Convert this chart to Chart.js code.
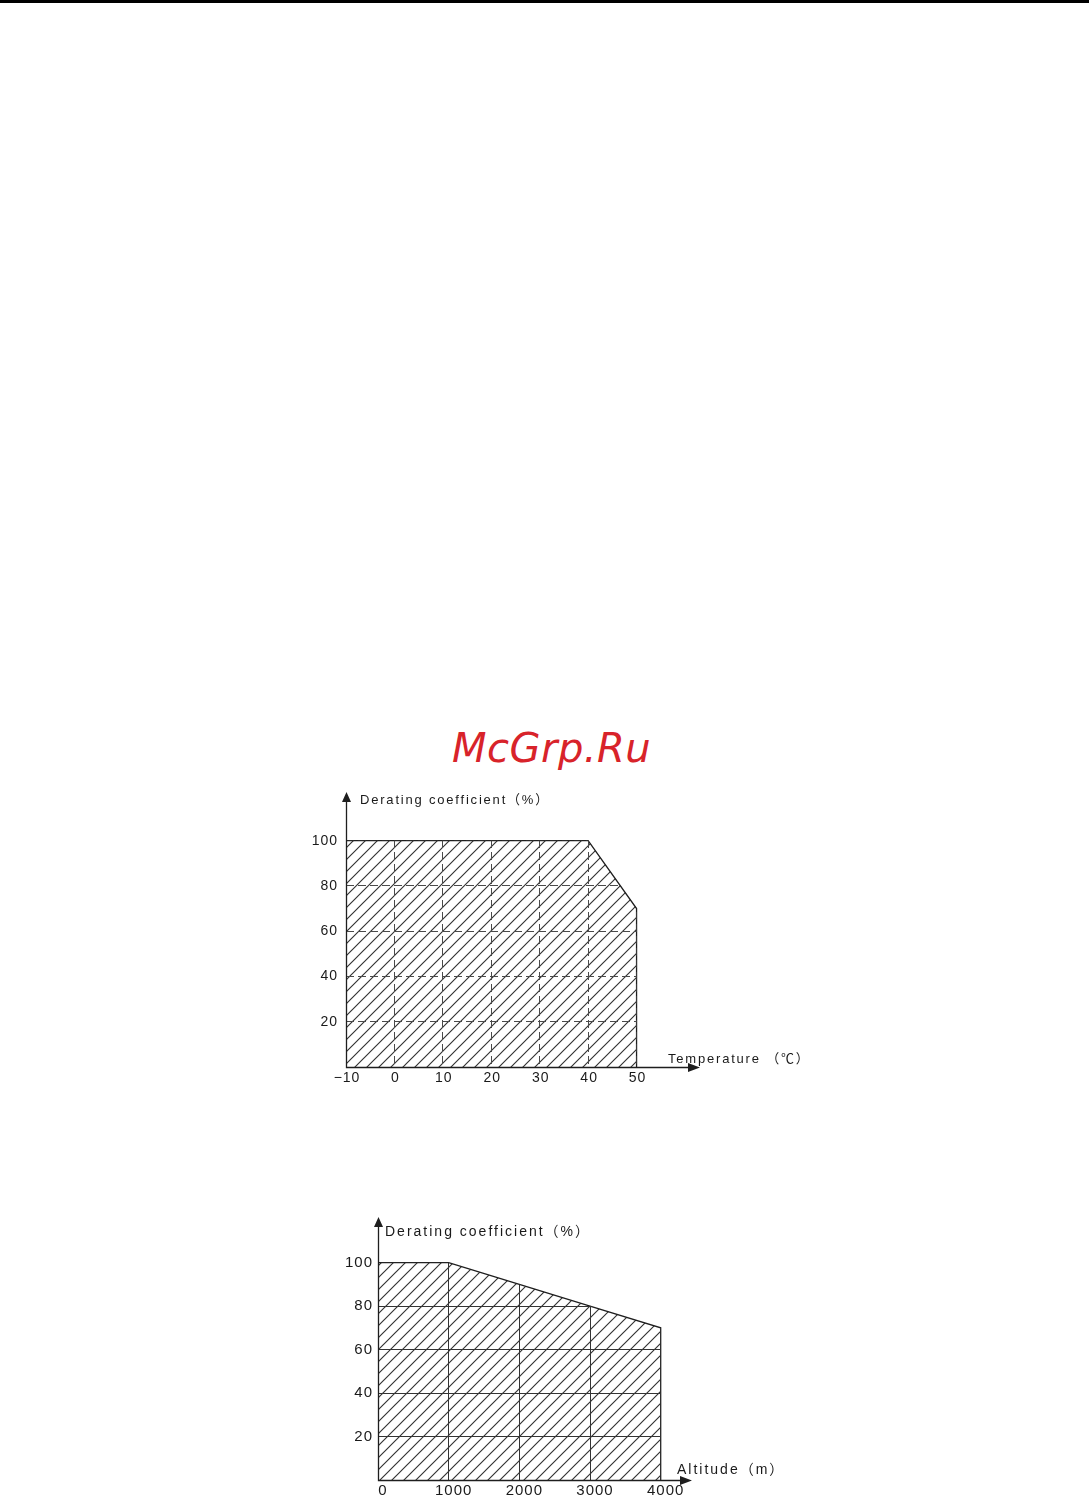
<!DOCTYPE html>
<html>
<head>
<meta charset="utf-8">
<script src="https://cdn.jsdelivr.net/npm/chart.js@4.4.1/dist/chart.umd.min.js"></script>
<style>
  html, body { margin: 0; padding: 0; background: #fff; }
  body { width: 1089px; height: 1495px; position: relative; overflow: hidden; }
  .topline { position: absolute; left: 0; top: 0; width: 1089px; height: 3px; background: #000; }
  .mark { position: absolute; left: 452px; top: 728px; font: oblique 40px "DejaVu Sans"; line-height: 40px; color: #d8232a; letter-spacing: 0.5px; }
  canvas { position: absolute; }
  #tempChart { left: 280px; top: 770px; }
  #altChart { left: 300px; top: 1200px; }
</style>
</head>
<body>
<div class="topline"></div>
<div class="mark">McGrp.Ru</div>
<canvas id="tempChart" width="560" height="330"></canvas>
<canvas id="altChart" width="520" height="295"></canvas>
<script>
// derating vs temperature
const tempX = [-10, 40, 50, 50];
const tempY = [100, 100, 70, 0];
const tempTicksX = [-10, 0, 10, 20, 30, 40, 50];
const tempLabelsX = ["−10", "0", "10", "20", "30", "40", "50"];
const tempTicksY = [20, 40, 60, 80, 100];
const tempRangeX = [-10, 63.1];
const tempRangeY = [0, 121.5];

// derating vs altitude
const altX = [0, 1000, 2000, 3000, 4000, 4000];
const altY = [100, 100, 90, 80, 70, 0];
const altTicksX = [0, 1000, 2000, 3000, 4000];
const altTicksY = [20, 40, 60, 80, 100];
const altRangeX = [0, 4443];
const altRangeY = [0, 121];

const yTitle = "Derating coefficient（%）";
const tempTitle = "Temperature （℃）";
const altTitle = "Altitude（m）";

const FONT = '"Liberation Sans", Arial, "Noto Sans CJK SC", sans-serif';
const INK = "#1e1e1e";
const TEXT = "#1a1a1a";

// diagonal hatch used as the fill
function hatch(ctx, step, color) {
  const c = document.createElement("canvas");
  c.width = step; c.height = step;
  const g = c.getContext("2d");
  g.strokeStyle = color;
  g.lineWidth = 1.15;
  g.beginPath();
  g.moveTo(-2, step + 2); g.lineTo(step + 2, -2);
  g.moveTo(-2, 2); g.lineTo(2, -2);
  g.moveTo(step - 2, step + 2); g.lineTo(step + 2, step - 2);
  g.stroke();
  return ctx.createPattern(c, "repeat");
}

// clip the grid to the filled area, then draw axes, arrows and titles
const axisDeco = {
  id: "axisDeco",
  beforeDraw(chart, args, o) {
    chart.ctx.letterSpacing = o.tickSpacing;
  },
  afterDatasetsDraw(chart) {
    const ctx = chart.ctx;
    const pts = chart.getDatasetMeta(0).data;
    const base = chart.scales.y.getPixelForValue(0);
    ctx.save();
    ctx.beginPath();
    ctx.moveTo(pts[0].x, base);
    pts.forEach(p => ctx.lineTo(p.x, p.y));
    ctx.closePath();
    ctx.clip();
  },
  afterDraw(chart, args, o) {
    const ctx = chart.ctx;
    ctx.restore();
    const a = chart.chartArea;
    const x0 = Math.round(a.left) + 0.5;
    const y0 = Math.round(a.bottom) + 0.5;
    ctx.save();
    ctx.strokeStyle = INK;
    ctx.lineWidth = 1.3;
    ctx.beginPath();
    ctx.moveTo(x0, a.top + 4);
    ctx.lineTo(x0, y0);
    ctx.lineTo(a.right - 4, y0);
    ctx.stroke();

    ctx.fillStyle = INK;
    ctx.beginPath();
    ctx.moveTo(x0, a.top);
    ctx.lineTo(x0 - 4.5, a.top + 10);
    ctx.lineTo(x0 + 4.5, a.top + 10);
    ctx.closePath();
    ctx.moveTo(a.right, y0);
    ctx.lineTo(a.right - 12, y0 - 4.5);
    ctx.lineTo(a.right - 12, y0 + 4.5);
    ctx.closePath();
    ctx.fill();

    ctx.font = o.titleSize + "px " + FONT;
    ctx.letterSpacing = o.titleSpacing;
    ctx.fillStyle = TEXT;
    ctx.textBaseline = "middle";
    ctx.textAlign = "left";
    ctx.fillText(o.yTitle, a.left + o.yDx, a.top + o.yDy);
    ctx.fillText(o.xTitle, a.right + o.xDx, a.bottom + o.xDy);
    ctx.restore();
  }
};

function makeChart(id, xs, ys, rx, ry, ticksX, labelsX, ticksY, cfg) {
  const canvas = document.getElementById(id);
  const ctx = canvas.getContext("2d");
  return new Chart(ctx, {
    type: "line",
    data: {
      datasets: [{
        data: xs.map((x, i) => ({ x: x, y: ys[i] })),
        borderColor: INK,
        borderWidth: 1.3,
        backgroundColor: hatch(ctx, 12, "#333"),
        fill: "origin",
        pointRadius: 0,
        tension: 0
      }]
    },
    options: {
      responsive: false,
      animation: false,
      layout: { padding: { top: cfg.padTop, right: cfg.padRight, left: 0, bottom: 0 } },
      scales: {
        x: {
          type: "linear",
          min: rx[0],
          max: rx[1],
          afterBuildTicks: s => { s.ticks = ticksX.map(v => ({ value: v })); },
          afterFit: s => { s.height = cfg.xHeight; s.paddingLeft = 0; s.paddingRight = 0; },
          ticks: {
            callback: (v, i) => labelsX[i],
            color: TEXT,
            font: { family: FONT, size: cfg.tickSize },
            padding: cfg.xPad,
            labelOffset: cfg.xLabelOffset,
            maxRotation: 0,
            autoSkip: false
          },
          grid: { drawTicks: false, color: cfg.gridColor, lineWidth: 1, z: 1 },
          border: { display: false, dash: cfg.dash }
        },
        y: {
          min: ry[0],
          max: ry[1],
          afterBuildTicks: s => { s.ticks = ticksY.map(v => ({ value: v })); },
          afterFit: s => { s.width = cfg.yWidth; s.paddingTop = 0; s.paddingBottom = 0; },
          ticks: {
            color: TEXT,
            font: { family: FONT, size: cfg.tickSize },
            padding: cfg.yPad
          },
          grid: { drawTicks: false, color: cfg.gridColor, lineWidth: 1, z: 1 },
          border: { display: false, dash: cfg.dash }
        }
      },
      plugins: {
        legend: { display: false },
        tooltip: { enabled: false },
        axisDeco: cfg.deco
      }
    },
    plugins: [axisDeco]
  });
}

makeChart("tempChart", tempX, tempY, tempRangeX, tempRangeY, tempTicksX, tempLabelsX, tempTicksY, {
  padTop: 22, padRight: 140, xHeight: 33, yWidth: 66,
  tickSize: 14, xPad: 3, yPad: 8, xLabelOffset: 1,
  gridColor: "#4a4a4a", dash: [8, 4],
  deco: { tickSpacing: "1px", titleSize: 13, titleSpacing: "1.8px",
          yTitle: yTitle, yDx: 14, yDy: 8,
          xTitle: tempTitle, xDx: -32, xDy: -8 }
});

makeChart("altChart", altX, altY, altRangeX, altRangeY, altTicksX, altTicksX.map(String), altTicksY, {
  padTop: 17, padRight: 128, xHeight: 15, yWidth: 78,
  tickSize: 15, xPad: 2, yPad: 5, xLabelOffset: 5,
  gridColor: "#333", dash: [],
  deco: { tickSpacing: "1px", titleSize: 14, titleSpacing: "2px",
          yTitle: yTitle, yDx: 7, yDy: 15,
          xTitle: altTitle, xDx: -15, xDy: -10 }
});
</script>
</body>
</html>
